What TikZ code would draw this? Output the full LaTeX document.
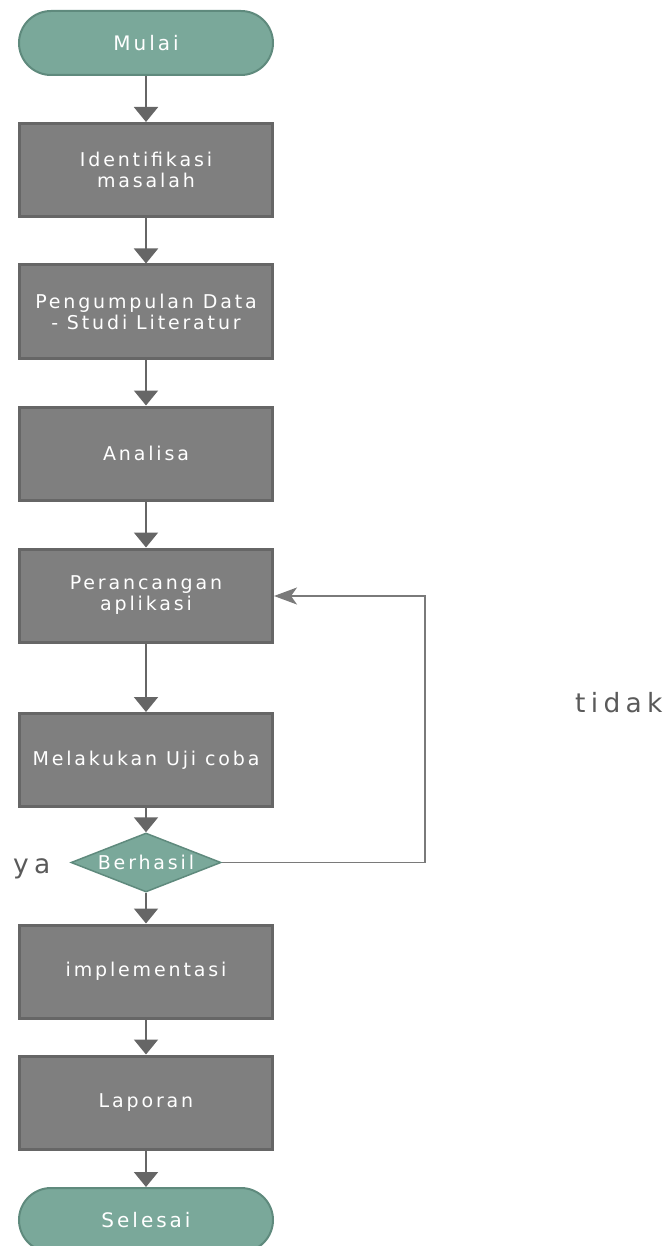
\documentclass[tikz,border=0pt]{standalone}
\usepackage{fontspec}
\setmainfont{DejaVu Sans}
\newfontfamily\boxfont[LetterSpace=15]{DejaVu Sans}
\newfontfamily\labelfont[LetterSpace=20]{DejaVu Sans}
\usetikzlibrary{arrows.meta,shapes.geometric}

\definecolor{termfill}{HTML}{7AA89A}
\definecolor{termline}{HTML}{5F8A7D}
\definecolor{procfill}{HTML}{7F7F7F}
\definecolor{procline}{HTML}{666666}
\definecolor{arrowcol}{HTML}{666666}
\definecolor{loopcol}{HTML}{7A7A7A}
\definecolor{labelcol}{HTML}{5A5A5A}

\tikzset{
  terminal/.style={draw=termline, fill=termfill, line width=2pt,
    rectangle, rounded corners=32pt, minimum width=254pt, minimum height=64pt,
    text=white, font=\boxfont\fontsize{20}{22}\selectfont, inner sep=0pt},
  process/.style={draw=procline, fill=procfill, line width=3pt,
    rectangle, minimum width=253pt, minimum height=93pt,
    text=white, align=center, inner sep=0pt,
    font=\boxfont\fontsize{19}{21}\selectfont},
  decision/.style={draw=termline, fill=termfill, line width=1.5pt,
    diamond, minimum width=150pt, minimum height=59pt, aspect=2.5, inner sep=0pt,
    text=white, font=\boxfont\fontsize{19}{21}\selectfont},
  flow/.style={draw=arrowcol, line width=2pt,
    -{Triangle[width=24pt,length=15pt]}},
  loopflow/.style={draw=loopcol, line width=1.6pt,
    -{Stealth[width=17pt,length=23pt,inset=6pt]}},
  sidelabel/.style={text=labelcol, font=\labelfont\fontsize{26.5}{28}\selectfont, inner sep=0pt}
}

\begin{document}
\begin{tikzpicture}[x=1pt,y=1pt]
  \useasboundingbox (0,0) rectangle (667,-1246);

  \node[terminal] (mulai) at (146,-43) {Mulai};
  \node[process] (ident) at (146,-170) {Identifikasi\\masalah};
  \node[process] (kumpul) at (146,-311.5) {Pengumpulan Data\\- Studi Literatur};
  \node[process] (analisa) at (146,-453.5) {Analisa};
  \node[process] (rancang) at (146,-595.5) {Perancangan\\aplikasi};
  \node[process] (uji) at (146,-760) {Melakukan Uji coba};
  \node[decision] (berhasil) at (146,-862.5) {Berhasil};
  \node[process] (impl) at (146,-971.5) {implementasi};
  \node[process] (lapor) at (146,-1102.5) {Laporan};
  \node[terminal] (selesai) at (146,-1220) {Selesai};

  \coordinate (loopbottom) at (425,-862.5);
  \coordinate (looptop) at (425,-596);

  \draw[flow] (mulai) -- (ident);
  \draw[flow] (ident) -- (kumpul);
  \draw[flow] (kumpul) -- (analisa);
  \draw[flow] (analisa) -- (rancang);
  \draw[flow] (rancang) -- (uji);
  \draw[flow] (uji) -- (berhasil);
  \draw[flow] (berhasil) -- (impl);
  \draw[flow] (impl) -- (lapor);
  \draw[flow] (lapor) -- (selesai);
  \draw[loopflow] (berhasil.east) -- (loopbottom) -- (looptop) -- (rancang.east |- looptop);

  \node[sidelabel, anchor=base west] (ya) at (13,-873) {ya};
  \node[sidelabel, anchor=base west] (tidak) at (575,-712) {tidak};
\end{tikzpicture}
\end{document}
